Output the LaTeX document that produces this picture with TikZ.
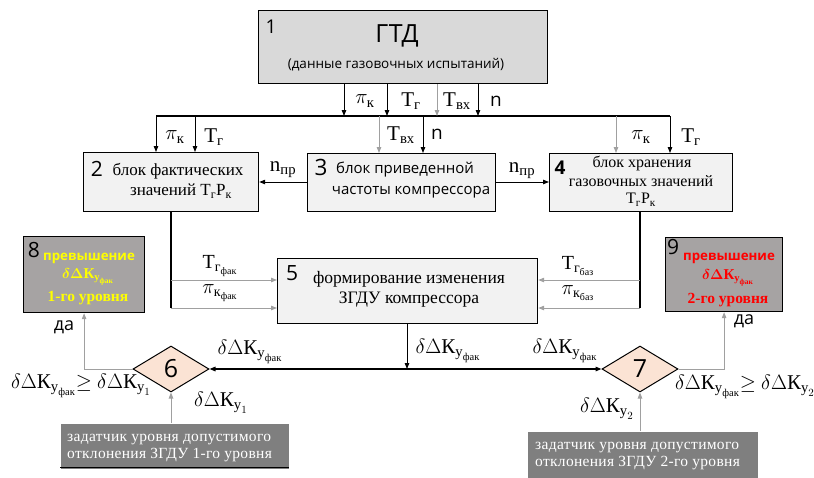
\documentclass[tikz,border=0pt]{standalone}
\usepackage{fontspec}
\usepackage{amsmath}
\setmainfont{Liberation Serif}
\setsansfont{Open Sans}
\usetikzlibrary{arrows.meta,shapes.geometric}
\definecolor{boxA}{HTML}{D9D9D9}
\definecolor{boxB}{HTML}{F2F2F2}
\definecolor{boxC}{HTML}{A6A3A3}
\definecolor{boxD}{HTML}{7F7F7F}
\definecolor{dia}{HTML}{FBE3D4}
\definecolor{gline}{HTML}{A0A0A0}
\definecolor{yel}{HTML}{FFFF00}
\definecolor{rd}{HTML}{FF0000}
\newcommand\fs[1]{\fontsize{#1}{#1}\selectfont}
\newcommand\dK[1]{$\delta\Delta\text{К}_{\text{у}_{#1}}$}
\begin{document}
\begin{tikzpicture}[x=1pt,y=-1pt,
  >={Triangle[length=6pt,width=4.5pt]},
  box/.style={draw=black,line width=1.2pt,inner sep=0pt,anchor=north west},
  ln/.style={line width=0.9pt,->},
  gl/.style={line width=0.9pt,draw=gline},
  gla/.style={gl,->},
  thk/.style={line width=2.6pt},
  lab/.style={inner sep=0pt,font=\fs{21}},
  slab/.style={inner sep=0pt,font=\sffamily\fs{19}},
  num/.style={inner sep=0pt,font=\sffamily\fs{21}},
  sertxt/.style={inner sep=0pt,font=\fs{17},align=center},
  dia6/.style={diamond,draw=black,line width=1pt,fill=dia,inner sep=0pt,minimum width=76pt,minimum height=46pt,font=\sffamily\fs{25}},
  settxt/.style={inner sep=0pt,anchor=west,font=\fs{15.5}\addfontfeatures{LetterSpace=2},text=white,align=left}
]
\useasboundingbox (0,0) rectangle (814,477);
% box 1
\node[box,fill=boxA,minimum width=289pt,minimum height=73pt] (b1) at (258,10) {};
\node[num,font=\sffamily\fs{19}] (n1) at (271,27) {1};
\node[inner sep=0pt,font=\sffamily\fs{25}] (t1) at (397,36) {ГТД};
\node[inner sep=0pt,font=\sffamily\fs{13.5}] (t1b) at (396,65) {(данные газовочных испытаний)};
% bus
\coordinate (busL) at (156,116);
\coordinate (busR) at (670,116);
\draw[line width=2.2pt] (busL) -- (busR);
\draw[ln] (b1.south -| 344,0) -- (busL -| 344,0);
\draw[ln] (b1.south -| 387,0) -- (busL -| 387,0);
\draw[gla] (b1.south -| 437,0) -- (busL -| 437,0);
\draw[ln] (b1.south -| 478,0) -- (busL -| 478,0);
\node[lab] (l1) at (365,101) {$\pi_{\text{к}}$};
\node[lab] (l2) at (411,101) {$\text{Т}_{\text{г}}$};
\node[lab] (l3) at (457,101) {$\text{Т}_{\text{вх}}$};
\node[slab] (l4) at (496,101) {n};
% boxes 2,3,4
\node[box,fill=boxB,minimum width=175pt,minimum height=59pt] (b2) at (83,152) {};
\node[box,fill=boxB,minimum width=188pt,minimum height=58pt] (b3) at (307,153) {};
\node[box,fill=boxB,minimum width=183pt,minimum height=58pt] (b4) at (549,153) {};
\node[num] (n2) at (97,169) {2};
\node[sertxt] (t2a) at (178,171) {блок фактических};
\node[sertxt] (t2b) at (181,191) {значений $\text{Т}_{\text{г}}\text{Р}_{\text{к}}$};
\node[num,font=\sffamily\fs{22.5}] (n3) at (321,167) {3};
\node[inner sep=0pt,font=\sffamily\fs{15}] (t3a) at (405,170) {блок приведенной};
\node[inner sep=0pt,font=\sffamily\fs{15}] (t3b) at (411,192) {частоты компрессора};
\node[num,font=\sffamily\bfseries\fs{19}] (n4) at (560,168) {4};
\node[sertxt,font=\fs{16}] (t4a) at (642,163) {блок хранения};
\node[sertxt,font=\fs{16}] (t4b) at (641,181) {газовочных значений};
\node[sertxt,font=\fs{16}] (t4c) at (641,200) {$\text{Т}_{\text{г}}\text{Р}_{\text{к}}$};
% bus -> boxes
\draw[ln] (busL -| 156,0) -- (b2.north -| 156,0);
\draw[ln] (busL -| 195,0) -- (b2.north -| 195,0);
\node[lab] (l5) at (175,137) {$\pi_{\text{к}}$};
\node[lab] (l6) at (214,137) {$\text{Т}_{\text{г}}$};
\draw[gla] (busL -| 379,0) -- (b3.north -| 379,0);
\draw[ln] (busL -| 423,0) -- (b3.north -| 423,0);
\node[lab] (l7) at (401,135) {$\text{Т}_{\text{вх}}$};
\node[slab] (l8) at (437,134) {n};
\draw[gla] (busL -| 616,0) -- (b4.north -| 616,0);
\draw[ln] (busR) -- (b4.north -| busR);
\node[lab] (l9) at (641,137) {$\pi_{\text{к}}$};
\node[lab] (l10) at (691,137) {$\text{Т}_{\text{г}}$};
% n_pr
\draw[ln] (b3.west |- 0,182) -- (b2.east |- 0,182);
\draw[ln] (b3.east |- 0,182) -- (b4.west |- 0,182);
\node[lab] (l11) at (283,170) {n$_{\text{пр}}$};
\node[lab] (l12) at (522,171) {n$_{\text{пр}}$};
% box 5
\node[box,fill=boxB,minimum width=260pt,minimum height=65pt] (b5) at (277,258) {};
\node[num] (n5) at (292,273) {5};
\node[sertxt,font=\fs{17.5}] (t5a) at (409,279) {формирование изменения};
\node[sertxt,font=\fs{17.5}] (t5b) at (409,300) {ЗГДУ компрессора};
\coordinate (lf1) at (171,280);
\coordinate (lf2) at (171,308);
\coordinate (rt1) at (640,280);
\coordinate (rt2) at (640,308);
\draw[thk] (b2.south -| lf1) -- (lf2);
\draw[thk] (b4.south -| rt1) -- (rt2);
\draw[gla] (lf1) -- (lf1 -| b5.west);
\draw[gla] (lf2) -- (lf2 -| b5.west);
\draw[gla] (rt1) -- (rt1 -| b5.east);
\draw[gla] (rt2) -- (rt2 -| b5.east);
\node[lab,font=\fs{20}] (l13) at (220,266) {$\text{Т}_{\text{г}_{\text{фак}}}$};
\node[lab,font=\fs{20}] (l14) at (220,293) {$\pi_{\text{к}_{\text{фак}}}$};
\node[lab,font=\fs{20}] (l15) at (578,266) {$\text{Т}_{\text{г}_{\text{баз}}}$};
\node[lab,font=\fs{20}] (l16) at (578,293) {$\pi_{\text{к}_{\text{баз}}}$};
% diamonds
\node[dia6] (d6) at (171,369) {6};
\node[dia6] (d7) at (640,369) {7};
\coordinate (j) at (407,369);
\draw[ln] (b5.south -| j) -- (j);
\draw[line width=1.3pt,->] (j) -- (d6.east);
\draw[line width=1.3pt,->] (j) -- (d7.west);
\node[lab] (l17) at (250,352) {\dK{\text{фак}}};
\node[lab] (l18) at (448,351) {\dK{\text{фак}}};
\node[lab] (l19) at (565,351) {\dK{\text{фак}}};
% boxes 8,9
\node[box,fill=boxC,minimum width=121pt,minimum height=76pt] (b8) at (23,236) {};
\node[box,fill=boxC,minimum width=117pt,minimum height=74pt] (b9) at (665,237) {};
\node[num] (n8) at (34,250) {8};
\node[inner sep=0pt,font=\sffamily\bfseries\fs{13.3},text=yel] (t8a) at (89,258) {превышение};
\node[inner sep=0pt,font=\boldmath\bfseries\fs{15},text=yel] (t8b) at (88,277) {\dK{\text{фак}}};
\node[inner sep=0pt,font=\bfseries\fs{15.5},text=yel] (t8c) at (88,298) {1-го уровня};
\node[num] (n9) at (673,247) {9};
\node[inner sep=0pt,font=\sffamily\bfseries\fs{13.3},text=rd] (t9a) at (729,258) {превышение};
\node[inner sep=0pt,font=\boldmath\bfseries\fs{15},text=rd] (t9b) at (728,278) {\dK{\text{фак}}};
\node[inner sep=0pt,font=\bfseries\fs{15.5},text=rd] (t9c) at (728,300) {2-го уровня};
\draw[gla] (d6.west) -| (b8.south);
\draw[gla] (d7.east) -| (b9.south);
\node[inner sep=0pt,font=\sffamily\fs{18}] (da1) at (64,327) {да};
\node[inner sep=0pt,font=\sffamily\fs{18}] (da2) at (744,321) {да};
\node[lab] (l20) at (81,386) {\dK{\text{фак}}$\geq$ \dK{1}};
\node[lab] (l21) at (745,387) {\dK{\text{фак}}$\geq$ \dK{2}};
\node[lab] (l22) at (221,403) {\dK{1}};
\node[lab] (l23) at (607,409) {\dK{2}};
% setters
\node[box,draw=none,fill=boxD,minimum width=228pt,minimum height=45pt] (z1) at (60,423) {};
\draw[line width=1pt] ([yshift=2pt]z1.south west) -- ([yshift=2pt]z1.south east);
\node[box,draw=none,fill=boxD,minimum width=230pt,minimum height=50pt] (z2) at (527,431) {};
\node[settxt] (tz1) at (67,448) {задатчик уровня допустимого\\[1pt]отклонения ЗГДУ 1-го уровня};
\node[settxt] (tz2) at (535,456) {задатчик уровня допустимого\\[1pt]отклонения ЗГДУ 2-го уровня};
\draw[gla] (z1.north -| d6.south) -- (d6.south);
\draw[gla] (z2.north -| d7.south) -- (d7.south);
\end{tikzpicture}
\end{document}
